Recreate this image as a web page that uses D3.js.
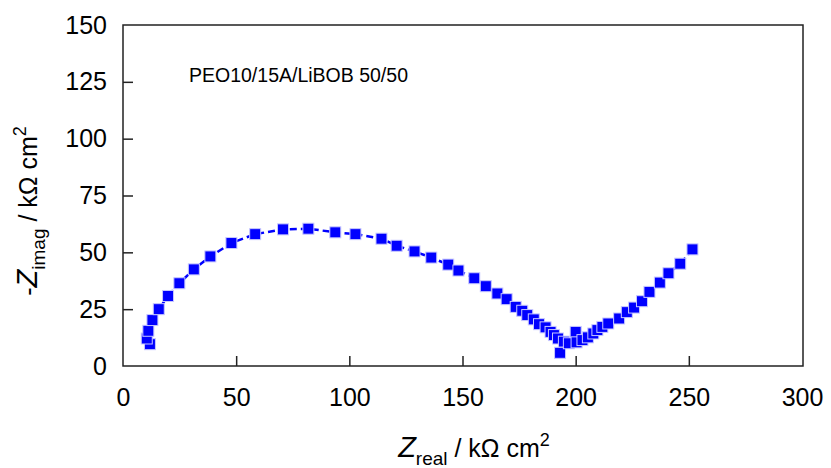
<!DOCTYPE html>
<html>
<head>
<meta charset="utf-8">
<script src="https://cdn.jsdelivr.net/npm/d3@7"></script>
<style>
  body { margin: 0; background: #fff; }
  text { font-family: "Liberation Sans", Arial, sans-serif; fill: #000; }
</style>
</head>
<body>
<div id="chart"></div>
<script>
// data (kOhm cm2)
var zReal = [11.9, 10.5, 11.2, 13.0, 15.8, 19.9, 24.9, 31.3, 38.6, 47.9, 58.4, 70.7, 81.9,
    93.8, 102.7, 114.2, 120.9, 128.8, 136.2, 143.7, 148.2, 155.2, 160.3, 165.4, 169.5,
    173.5, 176.4, 178.6, 181.5, 183.8, 186.7, 188.9, 190.4, 192.2, 194.8, 193.1, 200.0,
    197.0, 200.4, 203.0, 205.4, 207.8, 209.6, 211.8, 214.4, 219.2, 222.6, 225.8, 229.3,
    232.6, 237.2, 241.0, 246.2, 251.6];
var zImag = [9.6, 12.1, 15.5, 20.2, 25.0, 30.8, 36.4, 42.5, 48.2, 54.1, 58.0, 60.1, 60.4,
    58.8, 58.0, 56.0, 52.9, 50.4, 47.7, 44.6, 42.0, 38.6, 35.1, 31.9, 29.4,
    26.0, 24.3, 22.4, 20.5, 18.4, 17.0, 15.0, 13.6, 12.1, 10.7, 5.8, 15.0,
    10.0, 10.4, 11.4, 12.6, 14.3, 15.8, 17.2, 18.7, 20.9, 23.7, 25.7, 28.5,
    32.6, 36.7, 40.8, 45.0, 51.3];
var xTicks = [0, 50, 100, 150, 200, 250, 300];
var yTicks = [0, 25, 50, 75, 100, 125, 150];
var sampleLabel = "PEO10/15A/LiBOB 50/50";

var width = 831, height = 468;
var margin = { top: 25, right: 28, bottom: 102, left: 123 };
var plotW = width - margin.left - margin.right;
var plotH = height - margin.top - margin.bottom;

var svg = d3.select("#chart").append("svg")
    .attr("width", width)
    .attr("height", height);

var g = svg.append("g")
    .attr("transform", "translate(" + margin.left + "," + margin.top + ")");

var x = d3.scaleLinear().domain([0, 300]).range([0, 679]);
var y = d3.scaleLinear().domain([0, 150]).range([plotH, 0]);

// frame
g.append("rect")
    .attr("width", plotW)
    .attr("height", plotH)
    .attr("fill", "none")
    .attr("stroke", "#222")
    .attr("stroke-width", 1.5);

// axes, ticks pointing inward
var xAxis = g.append("g")
    .attr("transform", "translate(0," + plotH + ")")
    .call(d3.axisBottom(x).tickValues(xTicks).tickSizeInner(-10).tickSizeOuter(0).tickPadding(22));
var yAxis = g.append("g")
    .call(d3.axisLeft(y).tickValues(yTicks).tickSizeInner(-10).tickSizeOuter(0).tickPadding(16));

[xAxis, yAxis].forEach(function(a) {
    a.select(".domain").remove();
    a.selectAll("line").attr("stroke", "#222").attr("stroke-width", 1.5);
    a.selectAll("text")
        .style("font-family", "'Liberation Sans', Arial, sans-serif")
        .style("font-size", "25px")
        .attr("fill", "#000");
});
// hide the ticks at the frame corners
xAxis.selectAll(".tick").filter(function(d) { return d === 0 || d === 300; }).select("line").remove();
yAxis.selectAll(".tick").filter(function(d) { return d === 0 || d === 150; }).select("line").remove();

var pts = zReal.map(function(v, i) { return [v, zImag[i]]; });

// dashed connecting line
g.append("path")
    .datum(pts)
    .attr("fill", "none")
    .attr("stroke", "#0000ff")
    .attr("stroke-width", 2.5)
    .attr("stroke-dasharray", "7,4")
    .attr("d", d3.line().x(function(d) { return x(d[0]); }).y(function(d) { return y(d[1]); }));

// square markers
var s = 11;
g.selectAll(".pt").data(pts).enter().append("rect")
    .attr("class", "pt")
    .attr("x", function(d) { return x(d[0]) - s / 2; })
    .attr("y", function(d) { return y(d[1]) - s / 2; })
    .attr("width", s)
    .attr("height", s)
    .attr("fill", "#0000ff")
    .attr("stroke", "#c8c8ff")
    .attr("stroke-width", 1);

// sample annotation
g.append("text")
    .attr("x", 66)
    .attr("y", 57)
    .style("font-size", "19.5px")
    .text(sampleLabel);

// x axis title
var xt = svg.append("text")
    .attr("x", 474)
    .attr("y", 457)
    .attr("text-anchor", "middle")
    .style("font-size", "25px");
xt.append("tspan").style("font-style", "italic").style("font-size", "29px").text("Z");
xt.append("tspan").attr("dy", 8).style("font-size", "19px").text("real");
xt.append("tspan").attr("dy", -8).text(" / k\u03A9 cm");
xt.append("tspan").attr("dy", -11).style("font-size", "18px").text("2");

// y axis title
var yt = svg.append("text")
    .attr("transform", "translate(37,211) rotate(-90)")
    .attr("text-anchor", "middle")
    .style("font-size", "25px");
yt.append("tspan").text("-");
yt.append("tspan").style("font-style", "italic").style("font-size", "29px").text("Z");
yt.append("tspan").attr("dy", 8).style("font-size", "19px").text("imag");
yt.append("tspan").attr("dy", -8).text(" / k\u03A9 cm");
yt.append("tspan").attr("dy", -11).style("font-size", "18px").text("2");
</script>
</body>
</html>
